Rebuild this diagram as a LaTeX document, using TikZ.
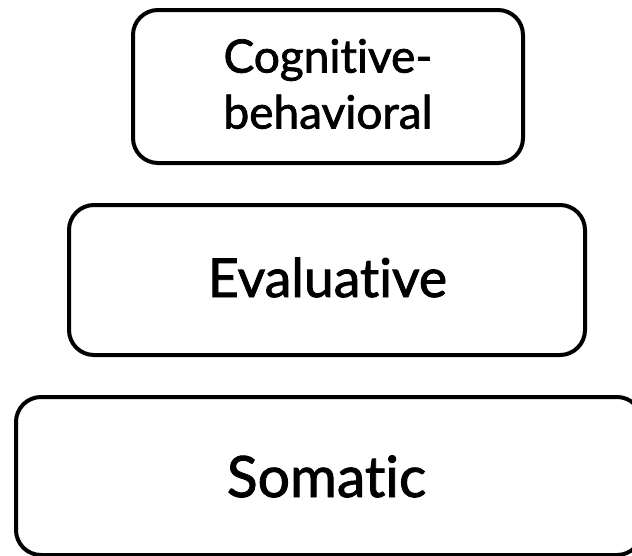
\documentclass[tikz,border=0pt]{standalone}
\usepackage{fontspec}
\setmainfont[Ligatures={NoCommon,NoRequired,NoContextual},FakeBold=1.6]{Lato}
\begin{document}
\begin{tikzpicture}[x=1pt,y=-1pt,
  layerbox/.style={draw=black,line width=4pt,rounded corners=25pt,fill=white,inner sep=0pt},
  layertext/.style={inner sep=0pt,align=center,text=black}]
\useasboundingbox (0,0) rectangle (632,555);
\clip (0,0) rectangle (632,555);
\fill[white] (0,0) rectangle (632,555);
\node[layerbox,minimum width=390pt,minimum height=153pt] (cog) at (328,86.5) {};
\node[layertext,font=\fontsize{46}{56}\selectfont] (cogt) at (328,84) {Cognitive-\\behavioral};
\node[layerbox,minimum width=516pt,minimum height=150pt] (eva) at (327,280) {};
\node[layertext,font=\fontsize{53.5}{60}\selectfont,anchor=base] (evat) at (327.5,297) {Evaluative};
\node[layerbox,minimum width=626pt,minimum height=158pt] (som) at (329,476) {};
\node[layertext,font=\fontsize{57}{64}\selectfont,anchor=base] (somt) at (326.5,497) {Somatic};
\end{tikzpicture}
\end{document}
